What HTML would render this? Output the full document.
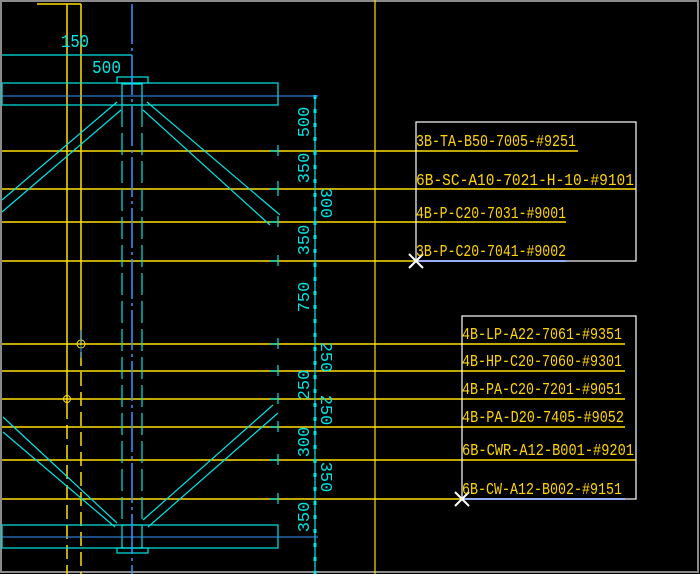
<!DOCTYPE html>
<html><head><style>
html,body{margin:0;padding:0;background:#000;}
svg{display:block}
text{font-family:"Liberation Mono",monospace;}
</style></head><body>
<svg width="700" height="574" viewBox="0 0 700 574" xmlns="http://www.w3.org/2000/svg">
<rect width="700" height="574" fill="#000"/>
<rect x="1" y="1" width="697" height="571" fill="none" stroke="#8a8a8a" stroke-width="2"/>

<g stroke="#ffe000" stroke-width="1.5">
<line x1="37" y1="4" x2="81" y2="4"/>
<line x1="67" y1="4" x2="67" y2="405"/>
<line x1="67" y1="405" x2="67" y2="574" stroke-dasharray="14,6"/>
<line x1="81" y1="4" x2="81" y2="345"/>
<line x1="81" y1="352" x2="81" y2="574" stroke-dasharray="14,6"/>
<line x1="375" y1="0" x2="375" y2="574" stroke-width="1.2"/>
</g>
<circle cx="81" cy="344" r="4" fill="none" stroke="#ffe000"/>
<circle cx="67" cy="399" r="3.5" fill="none" stroke="#ffe000"/>
<line x1="72" y1="344" x2="95" y2="344" stroke="#3399ff"/>
<line x1="81" y1="330" x2="81" y2="358" stroke="#3399ff"/>

<g stroke="#ffe000" stroke-width="1.6">
<line x1="2" y1="151" x2="578" y2="151"/>
<line x1="2" y1="189" x2="636" y2="189"/>
<line x1="2" y1="222" x2="566" y2="222"/>
<line x1="2" y1="261" x2="416" y2="261"/>
<line x1="2" y1="344" x2="625" y2="344"/>
<line x1="2" y1="371" x2="625" y2="371"/>
<line x1="2" y1="399" x2="625" y2="399"/>
<line x1="2" y1="427" x2="625" y2="427"/>
<line x1="2" y1="460" x2="636" y2="460"/>
<line x1="2" y1="499" x2="462" y2="499"/>
</g>
<g stroke="#0033ff" stroke-width="2">
<line x1="416" y1="261" x2="566" y2="261"/>
<line x1="462" y1="499" x2="625" y2="499"/>
</g>

<g fill="none" stroke="#ffffff" stroke-width="1.2">
<rect x="416" y="122" width="220" height="139"/>
<rect x="462" y="316" width="174" height="183"/>
</g>
<g stroke="#ffffff" stroke-width="2">
<line x1="409" y1="254" x2="423" y2="268"/><line x1="423" y1="254" x2="409" y2="268"/>
<line x1="455" y1="492" x2="469" y2="506"/><line x1="469" y1="492" x2="455" y2="506"/>
</g>

<g fill="#ffd400" font-size="16.5">
<text x="416" y="146" textLength="160" lengthAdjust="spacingAndGlyphs">3B-TA-B50-7005-#9251</text>
<text x="416" y="185" textLength="218" lengthAdjust="spacingAndGlyphs">6B-SC-A10-7021-H-10-#9101</text>
<text x="416" y="218" textLength="150" lengthAdjust="spacingAndGlyphs">4B-P-C20-7031-#9001</text>
<text x="416" y="256" textLength="150" lengthAdjust="spacingAndGlyphs">3B-P-C20-7041-#9002</text>
<text x="462" y="339" textLength="160" lengthAdjust="spacingAndGlyphs">4B-LP-A22-7061-#9351</text>
<text x="462" y="366" textLength="160" lengthAdjust="spacingAndGlyphs">4B-HP-C20-7060-#9301</text>
<text x="462" y="394" textLength="160" lengthAdjust="spacingAndGlyphs">4B-PA-C20-7201-#9051</text>
<text x="462" y="422" textLength="162" lengthAdjust="spacingAndGlyphs">4B-PA-D20-7405-#9052</text>
<text x="462" y="455" textLength="172" lengthAdjust="spacingAndGlyphs">6B-CWR-A12-B001-#9201</text>
<text x="462" y="494" textLength="160" lengthAdjust="spacingAndGlyphs">6B-CW-A12-B002-#9151</text>
</g>

<g stroke="#00e5e5" stroke-width="1.2" fill="none">
<line x1="2" y1="55" x2="132" y2="55"/>
<rect x="2" y="83" width="276" height="22"/>
<rect x="117" y="77" width="31" height="6"/>
<rect x="122" y="84" width="20" height="21"/>
<rect x="2" y="525" width="276" height="23"/>
<rect x="117" y="548" width="31" height="5"/>
<rect x="122" y="525" width="20" height="23"/>
<line x1="122" y1="105" x2="122" y2="525" stroke-dasharray="22,6"/>
<line x1="142" y1="105" x2="142" y2="525" stroke-dasharray="22,6"/>
<line x1="117" y1="102" x2="2" y2="200"/>
<line x1="121" y1="110" x2="2" y2="212"/>
<line x1="147" y1="102" x2="280" y2="215"/>
<line x1="143" y1="110" x2="270" y2="225"/>
<line x1="3" y1="417" x2="117" y2="523"/>
<line x1="3" y1="432" x2="115" y2="527"/>
<line x1="273" y1="405" x2="143" y2="520"/>
<line x1="278" y1="413" x2="148" y2="527"/>
<line x1="315" y1="95" x2="315" y2="574"/>
</g>
<g stroke="#00e5e5" stroke-width="3">
<line x1="315" y1="95" x2="315" y2="574" stroke-dasharray="4,10"/>
</g>
<g stroke="#00e5e5" stroke-width="1.2" fill="none">
<path d="M270 151 h8 v-6 M278 151 v5"/>
<path d="M270 189 h8 v-8 M278 189 v7"/>
<path d="M270 222 h8 v-6 M278 222 v5"/>
<path d="M270 261 h8 v-6 M278 261 v5"/>
<path d="M270 344 h8 v-6 M278 344 v5"/>
<path d="M270 371 h8 v-6 M278 371 v5"/>
<path d="M270 399 h8 v-6 M278 399 v5"/>
<path d="M270 427 h8 v-6 M278 427 v5"/>
<path d="M270 460 h8 v-6 M278 460 v5"/>
<path d="M270 499 h8 v-6 M278 499 v5"/>
</g>
<g stroke="#3399ff" stroke-width="1.5">
<line x1="132" y1="4" x2="132" y2="574" stroke-dasharray="40,4,3,4"/>
<line x1="2" y1="96" x2="318" y2="96" stroke-width="1"/>
<line x1="2" y1="537" x2="318" y2="537" stroke-width="1"/>
</g>

<g fill="#00e5e5" font-size="18">
<text x="61" y="47" textLength="28" lengthAdjust="spacingAndGlyphs">150</text>
<text x="92" y="73" textLength="29" lengthAdjust="spacingAndGlyphs">500</text>
</g>
<g fill="#00e5e5" font-size="17" text-anchor="middle">
<text transform="translate(309,122) rotate(-90)">500</text>
<text transform="translate(309,168) rotate(-90)">350</text>
<text transform="translate(309,240) rotate(-90)">350</text>
<text transform="translate(309,297) rotate(-90)">750</text>
<text transform="translate(309,385) rotate(-90)">250</text>
<text transform="translate(309,442) rotate(-90)">300</text>
<text transform="translate(309,517) rotate(-90)">350</text>
<text transform="translate(321,203) rotate(90)">300</text>
<text transform="translate(321,357) rotate(90)">250</text>
<text transform="translate(321,410) rotate(90)">250</text>
<text transform="translate(321,477) rotate(90)">350</text>
</g>
</svg>
</body></html>
